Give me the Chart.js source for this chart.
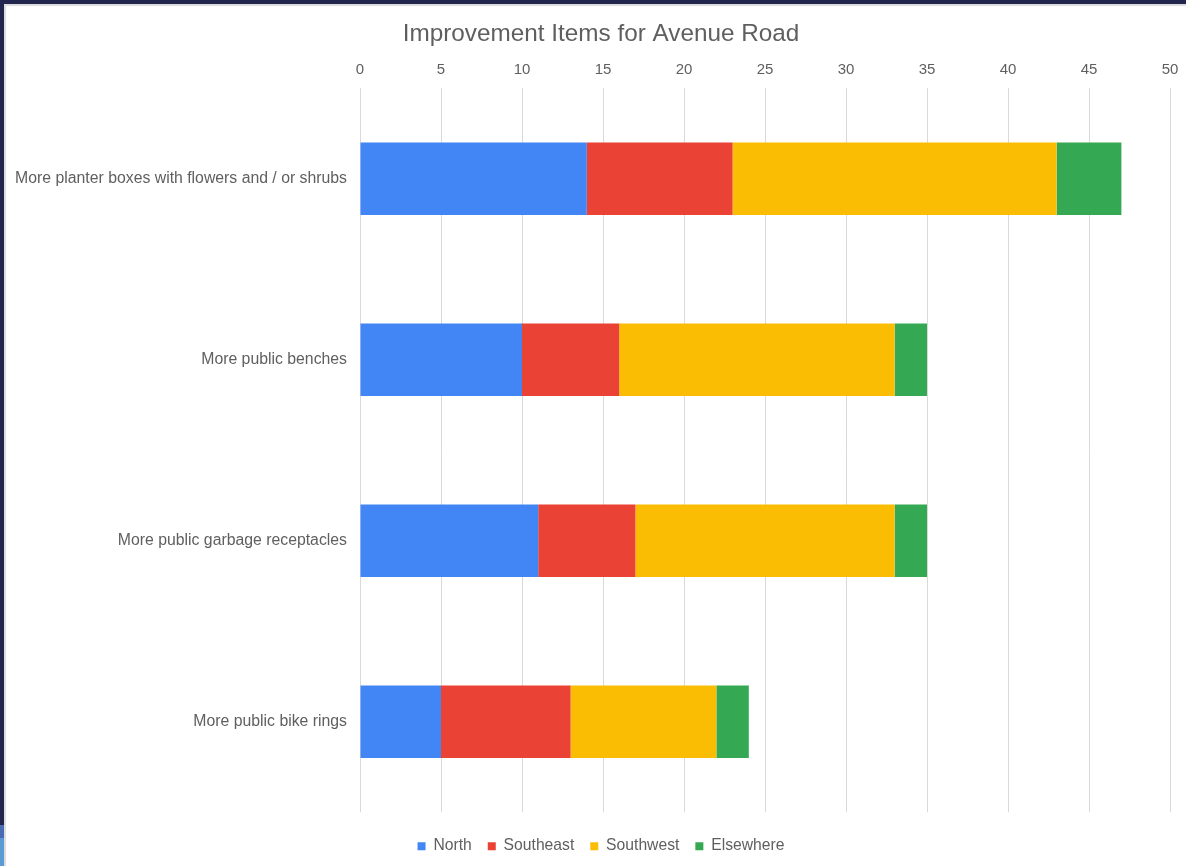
<!DOCTYPE html>
<html>
<head>
<meta charset="utf-8">
<script src="https://cdn.jsdelivr.net/npm/chart.js@4/dist/chart.umd.min.js"></script>
<style>
  html, body { margin: 0; padding: 0; }
  body { width: 1186px; height: 866px; background: #22264f; position: relative; overflow: hidden; }
  #strip1 { position: absolute; left: 0; top: 825px; width: 4px; height: 13px; background: #4a6cb5; }
  #strip2 { position: absolute; left: 0; top: 838px; width: 4px; height: 28px; background: #5b9bd5; }
  #frame { position: absolute; left: 4px; top: 4px; width: 1182px; height: 862px; background: #fff;
           border-left: 2px solid #dcdcdc; border-top: 2px solid #dcdcdc; }
  /* canvas runs a little past the window on the right so the title centres like the original */
  #wrap { position: absolute; left: 0; top: 0; width: 1190px; height: 860px; }
</style>
</head>
<body>
<div id="strip1"></div>
<div id="strip2"></div>
<div id="frame"><div id="wrap"><canvas id="chart"></canvas></div></div>
<script>
// categories and series
const categories = [
  "More planter boxes with flowers and / or shrubs",
  "More public benches",
  "More public garbage receptacles",
  "More public bike rings"
];
const north = [14, 10, 11, 5];
const southeast = [9, 6, 6, 8];
const southwest = [20, 17, 16, 9];
const elsewhere = [4, 2, 2, 2];

const textGrey = "#5f5f5f";
const offsetX = 6;   // frame offset inside the window

const mk = (label, data, color) => ({
  label, data,
  backgroundColor: color,
  borderWidth: 0,
  barPercentage: 0.4,
  categoryPercentage: 1.0,
});

// push the legend a bit lower, leaving a gap above it
const legendGap = {
  id: "legendGap",
  beforeInit(chart) {
    const fit = chart.legend.fit;
    chart.legend.fit = function () {
      fit.bind(chart.legend)();
      this.height += 4;
    };
  },
  afterLayout(chart) {
    chart.legend.top += 10;
    chart.legend.bottom += 10;
  },
};

new Chart(document.getElementById("chart").getContext("2d"), {
  type: "bar",
  data: {
    labels: categories,
    datasets: [
      mk("North", north, "#4285f4"),
      mk("Southeast", southeast, "#ea4335"),
      mk("Southwest", southwest, "#fbbc04"),
      mk("Elsewhere", elsewhere, "#34a853"),
    ],
  },
  plugins: [legendGap],
  options: {
    indexAxis: "y",
    responsive: true,
    maintainAspectRatio: false,
    animation: false,
    layout: { padding: { top: 14, right: 0, bottom: 8, left: 0 } },
    plugins: {
      title: {
        display: true,
        text: "Improvement Items for Avenue Road",
        color: textGrey,
        font: { family: "Liberation Sans, Arial", size: 24.3, weight: "normal" },
        padding: { top: 0, bottom: 3 },
      },
      legend: {
        position: "bottom",
        labels: {
          color: textGrey,
          font: { family: "Liberation Sans, Arial", size: 15.7 },
          boxWidth: 8,
          boxHeight: 8,
          padding: 16,
        },
      },
      tooltip: { enabled: false },
    },
    scales: {
      x: {
        position: "top",
        stacked: true,
        min: 0,
        max: 50,
        ticks: {
          stepSize: 5,
          color: textGrey,
          font: { family: "Liberation Sans, Arial", size: 15 },
          padding: 9,
        },
        grid: { color: "#d9d9d9", drawTicks: false },
        border: { display: false },
        afterFit: (s) => { s.paddingRight = 26; },
      },
      y: {
        stacked: true,
        ticks: {
          color: textGrey,
          font: { family: "Liberation Sans, Arial", size: 15.8 },
          padding: 5,
        },
        grid: { display: false },
        border: { display: false },
        afterFit: (s) => { s.width = 360 - offsetX; },
      },
    },
  },
});
</script>
</body>
</html>
